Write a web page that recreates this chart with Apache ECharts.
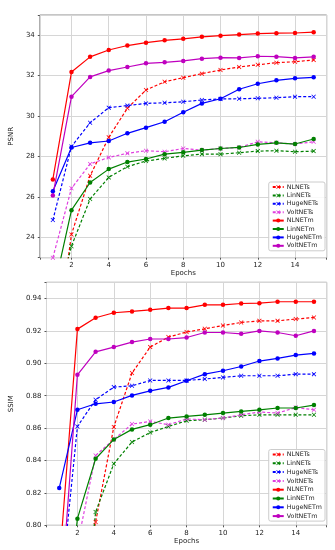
<!DOCTYPE html>
<html>
<head>
<meta charset="utf-8">
<script src="https://cdn.jsdelivr.net/npm/echarts@6/dist/echarts.min.js"></script>
<style>
html,body{margin:0;padding:0;background:#fff;}
#c{width:335px;height:550px;}
</style>
</head>
<body>
<div id="c"></div>
<script>
const epochs = [1,2,3,4,5,6,7,8,9,10,11,12,13,14,15];
const seriesNames = ['NLNETs','LinNETs','HugeNETs','VoltNETs','NLNETm','LinNETm','HugeNETm','VoltNETm'];

// PSNR values
const NLNETs_psnr   = [17.5, 24.15, 27.05, 28.95, 30.39, 31.29, 31.70, 31.90, 32.10, 32.28, 32.43, 32.54, 32.64, 32.69, 32.78];
const LinNETs_psnr  = [20.0, 23.57, 25.90, 26.97, 27.50, 27.78, 27.91, 28.04, 28.12, 28.12, 28.19, 28.27, 28.29, 28.24, 28.27];
const HugeNETs_psnr = [24.86, 28.50, 29.67, 30.42, 30.52, 30.63, 30.66, 30.71, 30.80, 30.85, 30.86, 30.88, 30.91, 30.96, 30.96];
const VoltNETs_psnr = [23.0, 26.43, 27.63, 27.96, 28.16, 28.29, 28.24, 28.40, 28.32, 28.40, 28.45, 28.73, 28.68, 28.62, 28.73];
const NLNETm_psnr   = [26.87, 32.18, 32.93, 33.27, 33.49, 33.63, 33.75, 33.82, 33.92, 33.98, 34.03, 34.08, 34.10, 34.11, 34.15];
const LinNETm_psnr  = [21.2, 25.35, 26.72, 27.38, 27.73, 27.88, 28.12, 28.21, 28.32, 28.40, 28.45, 28.60, 28.68, 28.62, 28.87];
const HugeNETm_psnr = [26.29, 28.45, 28.68, 28.77, 29.15, 29.43, 29.72, 30.19, 30.63, 30.86, 31.33, 31.60, 31.77, 31.87, 31.92];
const VoltNETm_psnr = [26.08, 30.96, 31.94, 32.25, 32.43, 32.61, 32.66, 32.73, 32.84, 32.89, 32.88, 32.96, 32.94, 32.88, 32.93];

// SSIM values
const NLNETs_ssim   = [0.700, 0.745, 0.802, 0.8607, 0.894, 0.910, 0.9162, 0.9193, 0.9213, 0.9233, 0.9252, 0.9262, 0.9262, 0.9273, 0.9283];
const LinNETs_ssim  = [0.650, 0.700, 0.8082, 0.838, 0.8514, 0.8573, 0.861, 0.8645, 0.8652, 0.8662, 0.8676, 0.8682, 0.8682, 0.8682, 0.8682];
const HugeNETs_ssim = [0.750, 0.861, 0.8775, 0.8853, 0.8861, 0.8894, 0.8894, 0.8894, 0.8903, 0.8913, 0.8923, 0.8923, 0.8923, 0.8933, 0.8933];
const VoltNETs_ssim = [0.700, 0.788, 0.8431, 0.853, 0.8625, 0.8641, 0.8621, 0.8656, 0.8652, 0.8662, 0.8682, 0.8699, 0.8693, 0.8727, 0.8713];
const NLNETm_ssim   = [0.775, 0.9211, 0.9281, 0.9312, 0.932, 0.933, 0.9341, 0.9341, 0.9361, 0.9361, 0.9369, 0.9371, 0.938, 0.938, 0.938];
const LinNETm_ssim  = [0.700, 0.8041, 0.8411, 0.853, 0.8592, 0.8621, 0.8662, 0.8672, 0.8682, 0.8693, 0.8703, 0.8713, 0.8724, 0.8724, 0.8742];
const HugeNETm_ssim = [0.823, 0.8713, 0.875, 0.8761, 0.8802, 0.883, 0.8851, 0.8892, 0.8933, 0.8954, 0.898, 0.9014, 0.903, 0.9051, 0.9061];
const VoltNETm_ssim = [0.741, 0.8929, 0.9071, 0.910, 0.9131, 0.915, 0.915, 0.9159, 0.919, 0.919, 0.9182, 0.920, 0.919, 0.917, 0.920];

const psnrData = [NLNETs_psnr, LinNETs_psnr, HugeNETs_psnr, VoltNETs_psnr, NLNETm_psnr, LinNETm_psnr, HugeNETm_psnr, VoltNETm_psnr];
const ssimData = [NLNETs_ssim, LinNETs_ssim, HugeNETs_ssim, VoltNETs_ssim, NLNETm_ssim, LinNETm_ssim, HugeNETm_ssim, VoltNETm_ssim];

const colors = ['#ff0000', '#008000', '#0000ff', '#e040e0', '#ff0000', '#008000', '#0000ff', '#bf00bf'];
const dashed = [true, true, true, true, false, false, false, false];
const XMARK = 'path://M0,1.2L1.2,0L5,3.8L8.8,0L10,1.2L6.2,5L10,8.8L8.8,10L5,6.2L1.2,10L0,8.8L3.8,5Z';

const FONT = 'DejaVu Sans';
const gridLine = {show: true, lineStyle: {color: '#d6d6d6', width: 1}};

function isTick(v, step) {
  const k = v / step;
  return Math.abs(k - Math.round(k)) < 1e-6;
}

function xAxis(gi) {
  return {
    type: 'value', gridIndex: gi, min: 0.3, max: 15.7,
    minInterval: 2, maxInterval: 2, splitNumber: 8,
    name: 'Epochs', nameLocation: 'middle', nameGap: 12,
    nameTextStyle: {fontFamily: FONT, fontSize: 7, color: '#222'},
    axisLine: {show: false},
    axisTick: {show: true, length: 2, lineStyle: {color: '#555'}},
    axisLabel: {fontFamily: FONT, fontSize: 7, color: '#222', margin: 4,
      formatter: v => (isTick(v, 2) ? String(Math.round(v)) : '')},
    splitLine: gridLine
  };
}

function legend(top, gap) {
  return {
    data: seriesNames, orient: 'vertical', right: 10, top: top, itemWidth: 11, itemHeight: 5, itemGap: gap,
    padding: [2, 3, 2, 3], backgroundColor: 'rgba(255,255,255,0.85)', borderColor: '#cccccc', borderWidth: 1, borderRadius: 2,
    textStyle: {fontFamily: FONT, fontSize: 6.3, color: '#222', padding: [0, 0, 0, -2]}, selectedMode: false
  };
}

const option = {
  animation: false,
  backgroundColor: '#ffffff',
  grid: [
    {left: 32, top: 15, width: 294.7, height: 242.7, show: true, borderColor: '#8c8c8c', borderWidth: 1, backgroundColor: 'transparent'},
    {left: 32, top: 282.3, width: 294.7, height: 243, show: true, borderColor: '#8c8c8c', borderWidth: 1, backgroundColor: 'transparent'}
  ],
  xAxis: [xAxis(0), xAxis(1)],
  yAxis: [
    {
      type: 'value', gridIndex: 0, min: 23, max: 35, minInterval: 2, maxInterval: 2, splitNumber: 6,
      name: 'PSNR', nameLocation: 'middle', nameGap: 15,
      nameTextStyle: {fontFamily: FONT, fontSize: 7, color: '#222'},
      axisLine: {show: false},
      axisTick: {show: true, length: 2, lineStyle: {color: '#555'}},
      axisLabel: {fontFamily: FONT, fontSize: 7, color: '#222', margin: 5,
        formatter: v => (isTick(v, 2) ? String(Math.round(v)) : '')},
      splitLine: gridLine
    },
    {
      type: 'value', gridIndex: 1, min: 0.80, max: 0.95, minInterval: 0.02, maxInterval: 0.02, splitNumber: 8,
      name: 'SSIM', nameLocation: 'middle', nameGap: 21,
      nameTextStyle: {fontFamily: FONT, fontSize: 7, color: '#222'},
      axisLine: {show: false},
      axisTick: {show: true, length: 2, lineStyle: {color: '#555'}},
      axisLabel: {fontFamily: FONT, fontSize: 7, color: '#222', margin: 5,
        formatter: v => (isTick(v, 0.02) && v < 0.949 ? v.toFixed(2) : '')},
      splitLine: gridLine
    }
  ],
  legend: [legend(182, 2.4), legend(449.5, 2.8)],
  series: []
};

function addSeries(dataArr, gi) {
  seriesNames.forEach((name, i) => {
    option.series.push({
      name: name, type: 'line', xAxisIndex: gi, yAxisIndex: gi,
      data: epochs.map((e, k) => [e, dataArr[i][k]]),
      clip: true,
      symbol: dashed[i] ? XMARK : 'circle',
      symbolSize: 4.5,
      showSymbol: true, showAllSymbol: true,
      lineStyle: {color: colors[i], width: 1.2, type: dashed[i] ? [3, 2] : 'solid'},
      itemStyle: {color: colors[i], borderWidth: 0},
      z: dashed[i] ? 2 : 3
    });
  });
}
addSeries(psnrData, 0);
addSeries(ssimData, 1);

const chart = echarts.init(document.getElementById('c'), null, {renderer: 'canvas'});
chart.setOption(option);
</script>
</body>
</html>
